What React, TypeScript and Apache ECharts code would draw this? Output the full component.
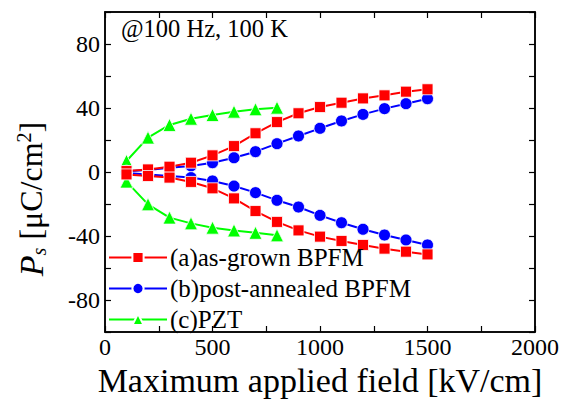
import React, { useEffect, useRef } from "react";
import * as echarts from "echarts";

const fieldA = [100, 200, 300, 400, 500, 600, 700, 800, 900, 1000, 1100, 1200, 1300, 1400, 1500];
const fieldC = [100, 200, 300, 400, 500, 600, 700, 800];

const asGrownPos = [0.6, 1.6, 3.3, 5.8, 10.4, 16.2, 24.2, 31.2, 36.7, 40.6, 43.3, 46.0, 47.9, 50.2, 51.7];
const asGrownNeg = [-1.5, -2.5, -3.5, -6.2, -10.2, -16.5, -24.4, -31.2, -36.5, -40.4, -43.1, -45.6, -47.9, -49.8, -51.5];
const annealedPos = [0.5, 1.3, 2.7, 3.8, 5.8, 8.9, 12.7, 17.7, 22.5, 27.3, 31.9, 36.0, 39.6, 42.7, 45.8];
const annealedNeg = [-0.6, -1.5, -2.5, -3.5, -5.6, -8.8, -12.9, -17.7, -21.9, -27.1, -31.7, -35.8, -39.4, -42.5, -45.6];
const pztPos = [6.9, 21.5, 29.4, 33.3, 35.6, 37.7, 39.2, 40.2];
const pztNeg = [-6.0, -20.2, -28.5, -32.1, -34.8, -36.5, -38.0, -39.6];

const seriesNames = ["(a)as-grown BPFM", "(b)post-annealed BPFM", "(c)PZT"];
const xTickLabels = [0, 500, 1000, 1500, 2000];
const yTickLabels = [-80, -40, 0, 40, 80];

const FONT = "Liberation Serif";

function pairs(xs: number[], ys: number[]) {
  return xs.map((x, i) => [x, ys[i]]);
}

export default function App() {
  const ref = useRef<HTMLDivElement>(null);
  useEffect(() => {
    if (!ref.current) return;
    const chart = echarts.init(ref.current, null, { renderer: "svg" });
    const colors = ["#ff0000", "#0000ff", "#00ff00"];
    const symbols = ["rect", "circle", "triangle"];
    const sizes = [11, 12, 13];
    const mk = (name: string, idx: number, data: number[][]) => ({
      name,
      type: "line",
      data,
      symbol: symbols[idx],
      symbolSize: sizes[idx],
      showSymbol: true,
      lineStyle: { color: colors[idx], width: 2 },
      itemStyle: { color: colors[idx], borderColor: "#ffffff", borderWidth: 0.8 },
      z: 3 - idx,
    });
    const axisCommon = {
      axisLine: { show: true, onZero: false, lineStyle: { color: "#000", width: 1.5 } },
      axisTick: { show: true, inside: true, length: 6, lineStyle: { color: "#000", width: 1.2 } },
      splitLine: { show: false },
    };
    chart.setOption({
      animation: false,
      backgroundColor: "#fff",
      grid: {
        left: 105,
        right: 26,
        top: 12,
        bottom: 69,
        containLabel: false,
        outerBoundsMode: "none",
        show: true,
        borderColor: "#000",
        borderWidth: 1.5,
        backgroundColor: "transparent",
      },
      legend: {
        data: seriesNames,
        orient: "vertical",
        left: 103,
        top: 240,
        itemWidth: 58,
        itemHeight: 14,
        itemGap: 6,
        textStyle: { fontFamily: FONT, fontSize: 25, color: "#000", padding: [0, 0, 0, -2] },
      },
      xAxis: [
        {
          type: "value",
          min: 0,
          max: 2000,
          interval: 250,
          ...axisCommon,
          axisLabel: {
            fontFamily: FONT,
            fontSize: 24,
            color: "#000",
            margin: 3,
            formatter: (v: number) => (xTickLabels.includes(v) ? String(v) : ""),
          },
          name: "Maximum applied field [kV/cm]",
          nameLocation: "middle",
          nameGap: 31,
          nameTextStyle: { fontFamily: FONT, fontSize: 34, color: "#000" },
        },
        {
          type: "value",
          position: "top",
          min: 0,
          max: 2000,
          interval: 250,
          ...axisCommon,
          axisLabel: { show: false },
        },
      ],
      yAxis: [
        {
          type: "value",
          min: -100,
          max: 100,
          interval: 20,
          ...axisCommon,
          axisLabel: {
            fontFamily: FONT,
            fontSize: 24,
            color: "#000",
            margin: 5,
            formatter: (v: number) => (yTickLabels.includes(v) ? String(v) : ""),
          },
        },
        {
          type: "value",
          position: "right",
          min: -100,
          max: 100,
          interval: 20,
          ...axisCommon,
          axisLabel: { show: false },
        },
      ],
      graphic: [
        {
          type: "text",
          left: 121,
          top: 16,
          style: { text: "@100 Hz, 100 K", fontFamily: FONT, fontSize: 24.5, fill: "#000" },
        },
        {
          type: "text",
          x: 31,
          y: 199,
          rotation: Math.PI / 2,
          style: {
            text: "{p|P}{s|s}{t| [μC/cm}{sup|2}{t|]}",
            fontFamily: FONT,
            align: "center",
            verticalAlign: "middle",
            fill: "#000",
            rich: {
              p: { fontFamily: FONT, fontSize: 34, fontStyle: "italic", fill: "#000" },
              s: { fontFamily: FONT, fontSize: 20, fontStyle: "italic", fill: "#000", verticalAlign: "bottom", padding: [15, 0, 0, 0] },
              t: { fontFamily: FONT, fontSize: 32, fill: "#000" },
              sup: { fontFamily: FONT, fontSize: 20, fill: "#000", verticalAlign: "top", padding: [0, 0, 15, 0] },
            },
          },
        },
      ],
      series: [
        mk(seriesNames[0], 0, pairs(fieldA, asGrownPos)),
        { ...mk(seriesNames[0], 0, pairs(fieldA, asGrownNeg)) },
        mk(seriesNames[1], 1, pairs(fieldA, annealedPos)),
        { ...mk(seriesNames[1], 1, pairs(fieldA, annealedNeg)) },
        mk(seriesNames[2], 2, pairs(fieldC, pztPos)),
        { ...mk(seriesNames[2], 2, pairs(fieldC, pztNeg)) },
      ],
    });
    return () => chart.dispose();
  }, []);
  return <div ref={ref} style={{ width: 561, height: 401, position: "absolute", left: 0, top: 0 }} />;
}
